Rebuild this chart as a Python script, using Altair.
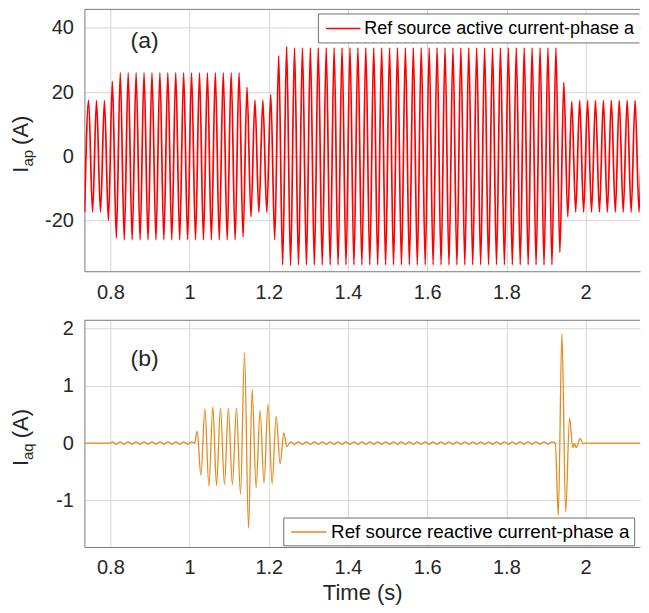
import altair as alt
import pandas as pd

FONT = "Liberation Sans"
TXT = "#262626"
FRAME = "#7a7a7a"
LEGEND_EDGE = "#6e6e6e"
GRID = "#d6d6d6"

# ---------------- values ----------------
x_domain = [0.7344, 2.1374]
x_ticks = [0.8, 1.0, 1.2, 1.4, 1.6, 1.8, 2.0]

# (a) active current: magnitude of each half-cycle extreme of the 50 Hz wave
ap_name = "Ref source active current-phase a"
ap_first_t = 0.735          # time of the first extreme (a trough)
ap_step = 0.01              # half period (s)
ap_run_count = [6, 1, 1, 1, 31, 1, 1, 1, 4, 1, 1, 1, 1, 1, 1, 67, 1, 1, 1, 1, 20]
ap_run_mag = [17.4, 20.0, 23.3, 25.4, 26.0, 25.2, 21.5, 18.8, 17.5, 19.2, 26.0,
              31.3, 33.8, 34.2, 34.0, 33.8, 29.9, 23.0, 18.8, 17.1, 17.4]
ap_y_domain = [-35.8, 45.75]
ap_y_ticks = [-20, 0, 20, 40]

# (b) reactive current
aq_name = "Ref source reactive current-phase a"
aq_lead_t = [0.7344, 0.800]
aq_lead_v = [0.0, 0.0]
aq_ripple1 = (0.805, 21, 0.02)      # first extreme, count, amplitude
aq_burst1_t = [1.013, 1.019, 1.0286, 1.0387, 1.0488, 1.0588, 1.068, 1.078, 1.088,
               1.098, 1.108, 1.1185, 1.1286, 1.1387, 1.1488, 1.158, 1.168, 1.178,
               1.188, 1.198, 1.2085, 1.2186, 1.2287, 1.238, 1.2455]
aq_burst1_v = [0.0, 0.21, -0.56, 0.60, -0.75, 0.63, -0.74, 0.61, -0.72,
               0.61, -0.72, 0.61, -0.89, 1.58, -1.48, 0.93, -0.78, 0.57,
               -0.70, 0.68, -0.71, 0.47, -0.36, 0.18, -0.06]
aq_ripple2 = (1.255, 67, 0.02)
aq_burst2_t = [1.9235, 1.931, 1.9403, 1.9496, 1.9596, 1.9675, 1.972, 1.9765,
               1.9865, 1.9935, 2.000, 2.1607]
aq_burst2_v = [0.0, -1.26, 1.91, -1.20, 0.44, -0.08, -0.01, -0.08,
               0.08, -0.01, 0.0, 0.0]
aq_y_domain = [-1.81, 2.14]
aq_y_ticks = [-1, 0, 1, 2]

# ---------------- tables ----------------
ap_t, ap_v = [], []
k = 0
for n, m in zip(ap_run_count, ap_run_mag):
    for _ in range(n):
        ap_t.append(round(ap_first_t + ap_step * k, 4))
        ap_v.append(-m if k % 2 == 0 else m)
        k += 1
df_ap = pd.DataFrame({"t": ap_t, "v": ap_v})


def ripple(spec):
    t0, n, a = spec
    return ([round(t0 + 0.01 * i, 4) for i in range(n)],
            [a if i % 2 == 0 else -a for i in range(n)])


r1t, r1v = ripple(aq_ripple1)
r2t, r2v = ripple(aq_ripple2)
aq_t = aq_lead_t + r1t + aq_burst1_t + r2t + aq_burst2_t
aq_v = aq_lead_v + r1v + aq_burst1_v + r2v + aq_burst2_v
df_aq = pd.DataFrame({"t": aq_t, "v": aq_v})

W = 556.3
H_TOP = 262.2
H_BOT = 227.0
PAD = {"left": 1.5, "top": 0, "right": 0, "bottom": 0}

ONE = pd.DataFrame({"s": [0]})


def text_layer(s, x, y, size, angle=0, align="center", baseline="middle", color=TXT):
    kw = dict(font=FONT, fontSize=size, color=color, align=align, baseline=baseline)
    if angle:
        kw["angle"] = angle
    return alt.Chart(pd.DataFrame({"s": [s]})).mark_text(**kw).encode(
        text="s:N", x=alt.value(x), y=alt.value(y))


def hrule(x1, x2, y, color, width):
    return alt.Chart(ONE).mark_rule(color=color, strokeWidth=width).encode(
        x=alt.value(x1), x2=alt.value(x2), y=alt.value(y))


def vrule(x, y1, y2, color, width):
    return alt.Chart(ONE).mark_rule(color=color, strokeWidth=width).encode(
        x=alt.value(x), y=alt.value(y1), y2=alt.value(y2))


def legend_layers(name, color, lw, box, sym, text_x, size, right_edge):
    x1, x2, y1, y2 = box
    yc = (y1 + y2) / 2
    layers = [
        alt.Chart(ONE).mark_rect(fill="#ffffff").encode(
            x=alt.value(x1), x2=alt.value(x2), y=alt.value(y1), y2=alt.value(y2)),
        hrule(x1, x2, y1, LEGEND_EDGE, 1),
        hrule(x1, x2, y2, LEGEND_EDGE, 1),
        vrule(x1, y1, y2, LEGEND_EDGE, 1),
    ]
    if right_edge:
        layers.append(vrule(x2, y1, y2, LEGEND_EDGE, 1))
    layers.append(hrule(sym[0], sym[1], yc, color, lw))
    layers.append(text_layer(name, text_x, yc + 0.5, size, align="left", color="#000000"))
    return layers


def panel(df, name, color, lw, y_domain, y_ticks, height, tag, tag_y,
          leg, sub, lab_start, with_title):
    xaxis = dict(values=x_ticks, format=".1~f")
    if with_title:
        xaxis["title"] = "Time (s)"
    else:
        xaxis["title"] = None
    line = alt.Chart(df).mark_line(interpolate="monotone", strokeWidth=lw, clip=True,
                                   color=color).encode(
        x=alt.X("t:Q", scale=alt.Scale(domain=x_domain, nice=False, zero=False),
                axis=alt.Axis(**xaxis)),
        y=alt.Y("v:Q", scale=alt.Scale(domain=y_domain, nice=False, zero=False),
                axis=alt.Axis(values=y_ticks, title=None,
                              labelExpr="(datum.value < 0 ? '-' : '') + abs(datum.value)")),
    )
    base_x = -56.7
    layers = [line,
              hrule(0, W, 0, FRAME, 1),
              text_layer(tag, 60.3, tag_y, 23),
              text_layer("I", base_x, lab_start, 22, 270, "left", "alphabetic"),
              text_layer(sub, base_x + 5, lab_start - 6.1, 15, 270, "left", "alphabetic"),
              text_layer("(A)", base_x, lab_start - 6.1 - 16.7 - 5, 22, 270, "left", "alphabetic")]
    layers += legend_layers(name, color, 1.5, *leg)
    return alt.layer(*layers).properties(width=W, height=height)


# legend geometry: box (x1, x2, y1, y2), symbol (x1, x2), text x, font size, right edge drawn
top_leg = ((234.3, W - 0.5, 4.6, 33.6), (242.0, 276.3), 280.3, 18, False)
bot_leg = ((199.6, 551.0, 198.0, 225.8), (207.0, 242.6), 247.0, 18.8, True)

top = panel(df_ap, ap_name, "#ff0000", 1.7, ap_y_domain, ap_y_ticks, H_TOP, "(a)", 31.7,
            top_leg, "ap", 163.5, False)
bot = panel(df_aq, aq_name, "#e58a1f", 1.3, aq_y_domain, aq_y_ticks, H_BOT, "(b)", 39,
            bot_leg, "aq", 146, True)

chart = alt.vconcat(top, bot, spacing=48.3, bounds="flush", padding=PAD).configure(
    padding=PAD).configure_view(stroke=None).configure_axis(
    labelFont=FONT, labelFontSize=20, labelColor=TXT,
    titleFont=FONT, titleFontSize=22, titleColor=TXT, titleFontWeight="normal",
    grid=True, gridColor=GRID, gridWidth=1,
    domainColor=FRAME, domainWidth=1, ticks=False,
).configure_axisX(labelPadding=11, titlePadding=5).configure_axisY(labelPadding=11)

chart.save("out.html", embed_options={"renderer": "svg", "actions": False})
